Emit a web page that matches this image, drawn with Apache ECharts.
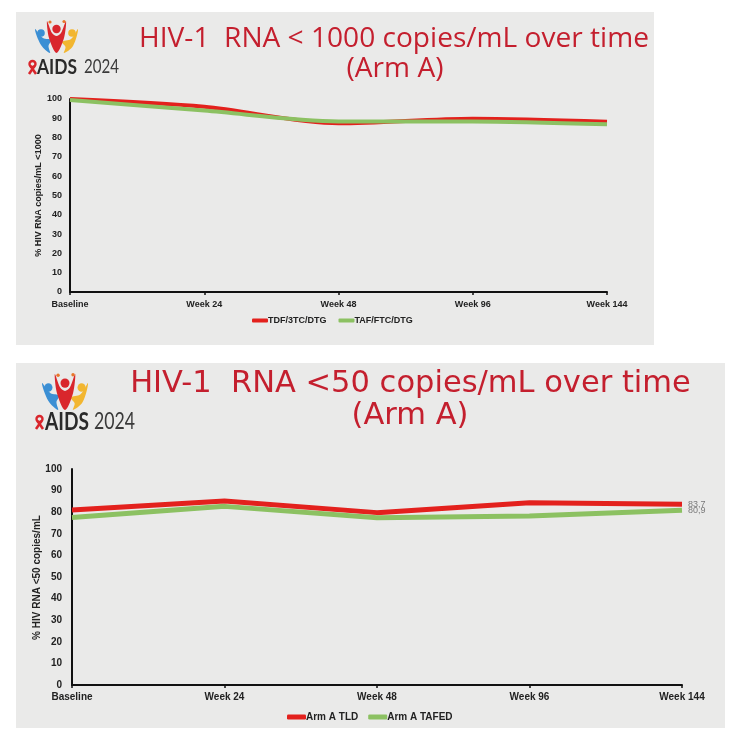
<!DOCTYPE html>
<html><head><meta charset="utf-8">
<script src="https://cdn.jsdelivr.net/npm/echarts@6/dist/echarts.min.js"></script>
<style>html,body{margin:0;padding:0;background:#fff;} #c{width:752px;height:732px;}</style>
</head><body><div id="c"></div>
<script>
// ---- data ----
const categories = ['Baseline', 'Week 24', 'Week 48', 'Week 96', 'Week 144'];
const topSeriesNames = ['TDF/3TC/DTG', 'TAF/FTC/DTG'];
const topRed = [100, 96, 87.4, 89.8, 88.2];
const topGreen = [99.5, 94, 88.4, 88.4, 86.9];
const bottomSeriesNames = ['Arm A TLD', 'Arm A TAFED'];
const bottomRed = [81, 85.2, 79.8, 84.4, 83.7];
const bottomGreen = [77.6, 82.7, 77.4, 78.2, 80.9];
const yMin = 0, yMax = 100, yStep = 10;
const topTitle = ['HIV-1  RNA < 1000 copies/mL over time', '(Arm A)'];
const bottomTitle = ['HIV-1  RNA <50 copies/mL over time', '(Arm A)'];
const topYName = '% HIV RNA copies/mL <1000';
const bottomYName = '% HIV RNA <50 copies/mL';

// ---- helpers ----
const RED = '#e3211d', GREEN = '#8cc162', TITLE_RED = '#c41f2e';
const AX = 'Liberation Sans, Arial, sans-serif';
const mctx = document.createElement('canvas').getContext('2d');
function fit(text, family, weight, width) {
  mctx.font = weight + ' 100px ' + family;
  return 100 * width / mctx.measureText(text).width;
}
function logo(x, y, sx, sy, tx, ty, aidsW, yrW, yrX, ribX, ribH) {
  const fig = {
    type: 'group', x: x, y: y, scaleX: sx, scaleY: sy,
    children: [
      {type: 'polygon', shape: {points: [[0,9],[8,18],[16,20],[13.5,26],[15,33],[6,25]], smooth: 0.35}, style: {fill: '#3b8fd4'}},
      {type: 'circle', shape: {cx: 6, cy: 13, r: 3.8}, style: {fill: '#3b8fd4'}},
      {type: 'polygon', shape: {points: [[43,9],[36,19],[27,22],[30.5,27],[29,33],[38,26]], smooth: 0.35}, style: {fill: '#f2b630'}},
      {type: 'circle', shape: {cx: 37, cy: 13, r: 3.8}, style: {fill: '#f2b630'}},
      {type: 'polygon', shape: {points: [[12,1],[17,13],[21.5,16],[26,13],[31,1],[29,18],[21.5,33],[14,18]], smooth: 0.3}, style: {fill: '#d9262c'}},
      {type: 'circle', shape: {cx: 21.5, cy: 9, r: 4.2}, style: {fill: '#d9262c'}},
      {type: 'circle', shape: {cx: 15, cy: 2, r: 1.6}, style: {fill: '#e8762a'}},
      {type: 'circle', shape: {cx: 29, cy: 1.5, r: 1.6}, style: {fill: '#e8762a'}}
    ]
  };
  const k = ribH / 14;
  const rib = {
    type: 'group', x: ribX, y: ty - ribH / 2, scaleX: k, scaleY: k,
    children: [
      {type: 'circle', shape: {cx: 4.5, cy: 4, r: 3}, style: {fill: 'none', stroke: '#d9262c', lineWidth: 2.4}},
      {type: 'line', shape: {x1: 1, y1: 14, x2: 6.5, y2: 6}, style: {stroke: '#d9262c', lineWidth: 2.6}},
      {type: 'line', shape: {x1: 8, y1: 14, x2: 2.5, y2: 6}, style: {stroke: '#d9262c', lineWidth: 2.6}}
    ]
  };
  const fam = 'Lato, Open Sans, sans-serif';
  const a = {type: 'text', x: tx, y: ty, scaleY: 1.25, style: {text: 'AIDS', fill: '#2a2a2a', font: 'bold ' + fit('AIDS', fam, 'bold', aidsW).toFixed(1) + 'px ' + fam, verticalAlign: 'middle', align: 'left'}};
  const b = {type: 'text', x: yrX, y: ty, scaleY: 1.25, style: {text: '2024', fill: '#3a3a3a', font: 'normal ' + fit('2024', fam, 'normal', yrW).toFixed(1) + 'px ' + fam, verticalAlign: 'middle', align: 'left'}};
  return [fig, rib, a, b];
}

const topFam = 'Open Sans, sans-serif';
const topSize = fit(topTitle[0], topFam, 'normal', 510);
const botFam = 'DejaVu Sans, Verdana, sans-serif';
const botSize = fit(bottomTitle[0], botFam, 'normal', 561);

const graphics = [
  {type: 'rect', z: -10, shape: {x: 16, y: 12, width: 638, height: 333}, style: {fill: '#eaeae9'}},
  {type: 'rect', z: -10, shape: {x: 16, y: 363, width: 709, height: 365}, style: {fill: '#eaeae9'}},
  {type: 'text', x: 394, y: 39, style: {text: topTitle[0], fill: TITLE_RED, font: 'normal ' + topSize.toFixed(1) + 'px ' + topFam, align: 'center', verticalAlign: 'middle'}},
  {type: 'text', x: 395, y: 69, style: {text: topTitle[1], fill: TITLE_RED, font: 'normal ' + topSize.toFixed(1) + 'px ' + topFam, align: 'center', verticalAlign: 'middle'}},
  {type: 'text', x: 410.5, y: 384, style: {text: bottomTitle[0], fill: TITLE_RED, font: 'normal ' + botSize.toFixed(1) + 'px ' + botFam, align: 'center', verticalAlign: 'middle'}},
  {type: 'text', x: 410, y: 416, style: {text: bottomTitle[1], fill: TITLE_RED, font: 'normal ' + botSize.toFixed(1) + 'px ' + botFam, align: 'center', verticalAlign: 'middle'}},
  {type: 'text', x: 38.5, y: 195.5, rotation: Math.PI / 2, style: {text: topYName, fill: '#222', font: 'bold 9px ' + AX, align: 'center', verticalAlign: 'middle'}},
  {type: 'text', x: 37.5, y: 577.5, rotation: Math.PI / 2, style: {text: bottomYName, fill: '#222', font: 'bold 10px ' + AX, align: 'center', verticalAlign: 'middle'}}
].concat(
  logo(35, 20, 1, 1, 37, 67, 40, 35, 84, 28, 14),
  logo(42, 373, 1.07, 1.12, 45, 422, 44, 41, 94, 35, 14)
);

function xAxis(gi, fs, m) {
  return {
    gridIndex: gi, type: 'category', data: categories, boundaryGap: false,
    axisLine: {lineStyle: {color: '#111', width: 2}},
    axisTick: {show: true, length: 3, lineStyle: {color: '#111', width: 1.5}},
    axisLabel: {interval: 0, color: '#222', fontWeight: 'bold', fontSize: fs, fontFamily: AX, margin: m}
  };
}
function yAxis(gi, fs, m) {
  return {
    gridIndex: gi, type: 'value', min: yMin, max: yMax, interval: yStep,
    axisLine: {show: true, lineStyle: {color: '#111', width: 2}},
    axisTick: {show: false}, splitLine: {show: false},
    axisLabel: {color: '#222', fontWeight: 'bold', fontSize: fs, fontFamily: AX, margin: m}
  };
}
function leg(names, left, top, iw, ih, fs, gap) {
  return {
    data: names, left: left, top: top, orient: 'horizontal', selectedMode: false,
    icon: 'roundRect', itemWidth: iw, itemHeight: ih, itemGap: gap,
    textStyle: {color: '#222', fontWeight: 'bold', fontSize: fs, fontFamily: AX, padding: [0, 0, 0, -5]}
  };
}

const chart = echarts.init(document.getElementById('c'), null, {renderer: 'canvas'});
chart.setOption({
  animation: false,
  backgroundColor: '#ffffff',
  graphic: graphics,
  grid: [
    {left: 70, width: 537, top: 99, height: 193},
    {left: 72, width: 610, top: 469, height: 216}
  ],
  xAxis: [xAxis(0, 9, 8), xAxis(1, 10, 7)],
  yAxis: [yAxis(0, 9, 8), yAxis(1, 10, 10)],
  legend: [
    leg(topSeriesNames, 247, 311, 16, 4, 9, 12),
    leg(bottomSeriesNames, 282, 707, 19, 5, 10, 10)
  ],
  series: [
    {name: topSeriesNames[0], type: 'line', xAxisIndex: 0, yAxisIndex: 0, data: topRed, smooth: 0.3, symbol: 'none', color: RED, lineStyle: {color: RED, width: 4}},
    {name: topSeriesNames[1], type: 'line', xAxisIndex: 0, yAxisIndex: 0, data: topGreen, smooth: 0.3, symbol: 'none', color: GREEN, lineStyle: {color: GREEN, width: 4}},
    {name: bottomSeriesNames[0], type: 'line', xAxisIndex: 1, yAxisIndex: 1, data: bottomRed, symbol: 'none', color: RED, lineStyle: {color: RED, width: 5},
      endLabel: {show: true, distance: 6, color: '#7a7a7a', fontSize: 9, fontFamily: AX, formatter: p => String(p.value).replace('.', ',')}},
    {name: bottomSeriesNames[1], type: 'line', xAxisIndex: 1, yAxisIndex: 1, data: bottomGreen, symbol: 'none', color: GREEN, lineStyle: {color: GREEN, width: 5},
      endLabel: {show: true, distance: 6, color: '#7a7a7a', fontSize: 9, fontFamily: AX, formatter: p => String(p.value).replace('.', ',')}}
  ]
});
</script></body></html>
